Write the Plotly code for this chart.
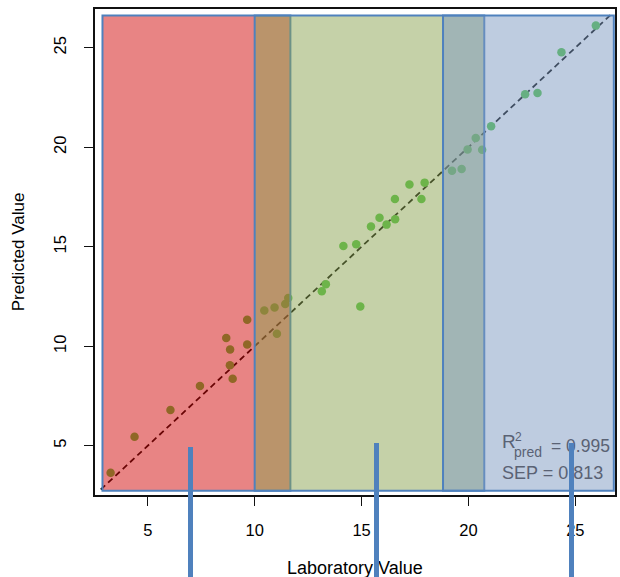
import plotly.graph_objects as go

# Laboratory reference values and model predictions
lab_value = [3.26, 4.38, 6.06, 7.44, 8.67, 8.85, 8.84, 8.97, 9.65, 9.65,
             10.45, 10.93, 11.04, 11.43, 11.57, 13.14, 13.33, 14.94, 14.15, 14.75,
             15.44, 15.84, 16.17, 16.57, 16.56, 17.24, 17.95, 17.80, 19.23, 19.68,
             19.96, 20.64, 20.34, 21.06, 22.65, 23.23, 24.35, 25.96]
pred_value = [3.64, 5.45, 6.79, 8.00, 10.41, 9.84, 9.04, 8.37, 11.33, 10.09,
              11.80, 11.95, 10.63, 12.12, 12.42, 12.76, 13.11, 12.00, 15.04, 15.12,
              16.02, 16.46, 16.11, 16.38, 17.40, 18.13, 18.22, 17.40, 18.82, 18.90,
              19.89, 19.87, 20.46, 21.05, 22.66, 22.72, 24.77, 26.11]

# Class bands on the laboratory scale (low / medium / high), overlapping
class_names = ["low", "medium", "high"]
class_lo = [2.88, 10.0, 18.81]
class_hi = [11.67, 20.74, 26.8]
band_y = [2.74, 26.62]

# 1:1 reference line extent
ref_line = [2.8, 26.65]

# Marker positions for the three classes
class_marks = [6.98, 15.69, 24.8]

tick_vals = [5, 10, 15, 20, 25]
r2_pred = "0.995"
sep = "0.813"

band_fill = ["rgba(209,9,9,0.5)", "rgba(139,163,81,0.5)", "rgba(125,153,193,0.5)"]
edge = "#4F81BD"
text_grey = "#5a6274"
FONT = "Liberation Sans, Arial, sans-serif"

W, H = 620, 577
ML, MR, MT, MB = 95, 3, 9, 82
PW, PH = W - ML - MR, H - MT - MB


def px(xp):
    return (xp - ML) / PW


def py(yp):
    return (H - MB - yp) / PH


fig = go.Figure()

fig.add_trace(go.Scatter(
    x=ref_line, y=ref_line, mode="lines",
    line=dict(color="black", width=1.8, dash="6px,4px"),
    hoverinfo="skip", showlegend=False,
))
fig.add_trace(go.Scatter(
    x=lab_value, y=pred_value, mode="markers",
    marker=dict(size=8.5, color="rgb(78,196,66)", line=dict(width=0)),
    showlegend=False,
))

for lo, hi, fill in zip(class_lo, class_hi, band_fill):
    fig.add_shape(type="rect", xref="x", yref="y",
                  x0=lo, x1=hi, y0=band_y[0], y1=band_y[1],
                  fillcolor=fill, line=dict(color=edge, width=2), layer="above")

annotations = []
# axis titles
annotations.append(dict(text="Laboratory Value", xref="paper", yref="paper",
                        x=0.5, y=py(568), xanchor="center", yanchor="middle",
                        showarrow=False, font=dict(family=FONT, size=18, color="black")))
annotations.append(dict(text="Predicted Value", xref="paper", yref="paper",
                        x=px(18), y=0.5, xanchor="center", yanchor="middle", textangle=-90,
                        showarrow=False, font=dict(family=FONT, size=17, color="black")))
# statistics
stat_font = dict(family=FONT, size=18, color=text_grey)
annotations.append(dict(text="R", xref="paper", yref="paper", x=px(502), y=py(441),
                        xanchor="left", yanchor="middle", showarrow=False,
                        font=dict(family=FONT, size=19, color=text_grey)))
annotations.append(dict(text="2", xref="paper", yref="paper", x=px(514.5), y=py(437),
                        xanchor="left", yanchor="middle", showarrow=False,
                        font=dict(family=FONT, size=12, color=text_grey)))
annotations.append(dict(text="pred", xref="paper", yref="paper", x=px(514), y=py(452),
                        xanchor="left", yanchor="middle", showarrow=False,
                        font=dict(family=FONT, size=14, color=text_grey)))
annotations.append(dict(text="= " + r2_pred, xref="paper", yref="paper", x=px(551), y=py(445.5),
                        xanchor="left", yanchor="middle", showarrow=False,
                        font=dict(family=FONT, size=17.5, color=text_grey)))
annotations.append(dict(text="SEP = " + sep, xref="paper", yref="paper", x=px(502), y=py(472.5),
                        xanchor="left", yanchor="middle", showarrow=False, font=stat_font))
# class markers
for xm, top in zip(class_marks, [447.3, 443.3, 443.3]):
    annotations.append(dict(text=" ", xref="x", yref="paper", x=xm, y=py(top),
                            xanchor="center", yanchor="top", showarrow=False,
                            width=5, height=200, bgcolor=edge, borderpad=0, borderwidth=0,
                            font=dict(size=2)))

axis_common = dict(
    showgrid=False, zeroline=False, showline=True, mirror=True,
    linecolor="#111111", linewidth=1.8,
    ticks="outside", ticklen=9, tickwidth=1.4, tickcolor="#111111",
    tickvals=tick_vals, tickfont=dict(family=FONT, size=16.5, color="black"),
)

fig.update_layout(
    width=W, height=H,
    margin=dict(l=ML, r=MR, t=MT, b=MB),
    paper_bgcolor="white", plot_bgcolor="white",
    xaxis=dict(range=[2.53, 26.855], ticklabelstandoff=10, **axis_common),
    yaxis=dict(range=[2.523, 26.945], tickangle=-90, ticklabelstandoff=12, **axis_common),
    annotations=annotations,
    showlegend=False,
)

fig.write_html("out.html")
